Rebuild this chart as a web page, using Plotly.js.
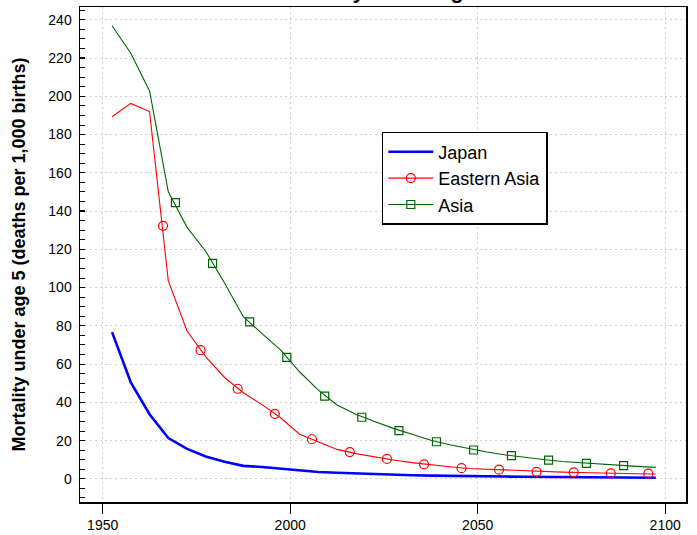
<!DOCTYPE html>
<html>
<head>
<meta charset="utf-8">
<script src="https://cdn.plot.ly/plotly-3.0.1.min.js"></script>
<style>html,body{margin:0;padding:0;background:#fff;}#chart{width:697px;height:535px;}</style>
</head>
<body>
<div id="chart"></div>
<script>
// Period midpoints (five-year periods)
const years = [1952.5, 1957.5, 1962.5, 1967.5, 1972.5, 1977.5, 1982.5, 1987.5, 1992.5, 1997.5,
               2002.5, 2007.5, 2012.5, 2017.5, 2022.5, 2027.5, 2032.5, 2037.5, 2042.5, 2047.5,
               2052.5, 2057.5, 2062.5, 2067.5, 2072.5, 2077.5, 2082.5, 2087.5, 2092.5, 2097.5];

const japan = [76.7, 50.4, 33.8, 21.3, 15.7, 11.7, 8.9, 6.8, 6.2, 5.4,
               4.5, 3.6, 3.2, 2.8, 2.4, 2.1, 1.9, 1.7, 1.5, 1.4,
               1.3, 1.2, 1.1, 1.0, 0.9, 0.8, 0.8, 0.7, 0.7, 0.6];

const easternAsia = [189.3, 196.3, 192.0, 103.5, 77.3, 63.8, 53.0, 45.0, 38.8, 31.8,
                     23.3, 19.4, 15.4, 13.2, 11.4, 9.9, 8.5, 7.3, 6.3, 5.4,
                     5.0, 4.6, 4.1, 3.7, 3.5, 3.3, 3.0, 2.85, 2.7, 2.5];

const asia = [236.9, 222.5, 202.8, 150.1, 131.5, 118.9, 102.4, 84.8, 75.9, 67.3,
              56.0, 46.4, 38.6, 33.8, 30.0, 26.4, 23.3, 20.2, 17.8, 15.8,
              14.0, 12.5, 11.2, 10.1, 9.1, 8.4, 7.7, 7.1, 6.5, 6.0];

// Marker positions along the lines (as drawn in the reference)
const eaMarkerYears = [1966.1, 1976.1, 1986.0, 1995.9, 2005.8, 2015.9, 2025.8, 2035.7, 2045.7, 2055.7, 2065.7, 2075.6, 2085.5, 2095.5];
const eaMarkerVals  = [132.3, 67.3, 47.1, 34.0, 20.7, 14.0, 10.4, 7.6, 5.6, 4.8, 3.7, 3.4, 2.9, 2.7];

const asiaMarkerYears = [1969.4, 1979.3, 1989.2, 1999.1, 2009.2, 2019.1, 2029.0, 2039.0, 2048.9, 2059.0, 2068.9, 2079.0, 2088.9];
const asiaMarkerVals  = [144.4, 112.7, 82.1, 63.5, 43.3, 32.2, 25.2, 19.4, 15.1, 12.1, 9.8, 8.1, 6.9];

const seriesNames = ['Japan', 'Eastern Asia', 'Asia'];
const xTicks = [1950, 2000, 2050, 2100];
const titleText = 'Mortality under age 5';
const yTitleText = 'Mortality under age 5 (deaths per 1,000 births)';

const FONT = 'Arial, "Liberation Sans", Helvetica, sans-serif';
const RED = '#ff0000', GREEN = '#006400', BLUE = '#0000ff';

const traces = [
  {x: years, y: japan, type: 'scatter', mode: 'lines', name: seriesNames[0],
   line: {color: BLUE, width: 2.6}, showlegend: true},
  {x: years, y: easternAsia, type: 'scatter', mode: 'lines', name: seriesNames[1],
   line: {color: RED, width: 1.1}, showlegend: false},
  {x: eaMarkerYears, y: eaMarkerVals, type: 'scatter', mode: 'markers', name: seriesNames[1],
   marker: {symbol: 'circle-open', size: 9, color: RED, line: {width: 1.2, color: RED}}, showlegend: false},
  {x: years, y: asia, type: 'scatter', mode: 'lines', name: seriesNames[2],
   line: {color: GREEN, width: 1.1}, showlegend: false},
  {x: asiaMarkerYears, y: asiaMarkerVals, type: 'scatter', mode: 'markers', name: seriesNames[2],
   marker: {symbol: 'square-open', size: 8, color: GREEN, line: {width: 1.2, color: GREEN}}, showlegend: false},
  // legend entries for the line+marker series
  {x: [null], y: [null], type: 'scatter', mode: 'lines+markers', name: seriesNames[1],
   line: {color: RED, width: 1.1}, marker: {symbol: 'circle-open', size: 9, color: RED, line: {width: 1.2, color: RED}}},
  {x: [null], y: [null], type: 'scatter', mode: 'lines+markers', name: seriesNames[2],
   line: {color: GREEN, width: 1.1}, marker: {symbol: 'square-open', size: 8, color: GREEN, line: {width: 1.2, color: GREEN}}}
];

const GRID = '#d0d0d0';

const layout = {
  width: 697, height: 535,
  margin: {l: 80, r: 11, t: 7, b: 33},
  paper_bgcolor: '#ffffff', plot_bgcolor: '#ffffff',
  font: {family: FONT, color: '#000000', size: 14},
  showlegend: true,
  legend: {
    x: 0.498, y: 0.7475, xanchor: 'left', yanchor: 'top',
    bgcolor: '#ffffff', bordercolor: '#000000', borderwidth: 1.5,
    font: {family: FONT, size: 18, color: '#000000'},
    itemwidth: 45, tracegroupgap: 0
  },
  xaxis: {
    range: [1943.95, 2105.55],
    tickmode: 'array', tickvals: xTicks, ticktext: xTicks.map(String),
    ticks: 'outside', ticklen: 10, tickwidth: 1.2, tickcolor: '#000',
    showline: true, linecolor: '#000', linewidth: 1.5, mirror: true,
    showgrid: true, gridcolor: GRID, griddash: '2px,3px', gridwidth: 1,
    zeroline: false,
    tickfont: {family: FONT, size: 14, color: '#000'}
  },
  yaxis: {
    range: [-12.1, 246.7],
    tick0: 0, dtick: 20,
    ticks: 'inside', ticklen: 5, tickwidth: 1.2, tickcolor: '#000',
    minor: {dtick: 5, tick0: 0, ticks: 'inside', ticklen: 5, tickwidth: 1, tickcolor: '#000', showgrid: false},
    showline: true, linecolor: '#000', linewidth: 1.5, mirror: true,
    showgrid: true, gridcolor: GRID, griddash: '2px,3px', gridwidth: 1,
    zeroline: false,
    ticklabelstandoff: 4,
    tickfont: {family: FONT, size: 14, color: '#000'},
    title: {text: yTitleText, font: {family: FONT, size: 18, color: '#000', weight: 'bold'}, standoff: 18}
  },
  annotations: [
    {text: '<b>' + titleText + '</b>', xref: 'paper', yref: 'paper', x: 0.5, y: 1, xanchor: 'center', yanchor: 'bottom',
     yshift: 2, showarrow: false, font: {family: FONT, size: 22, color: '#000'}}
  ]
};

Plotly.newPlot('chart', traces, layout, {displayModeBar: false, staticPlot: true});
</script>
</body>
</html>
